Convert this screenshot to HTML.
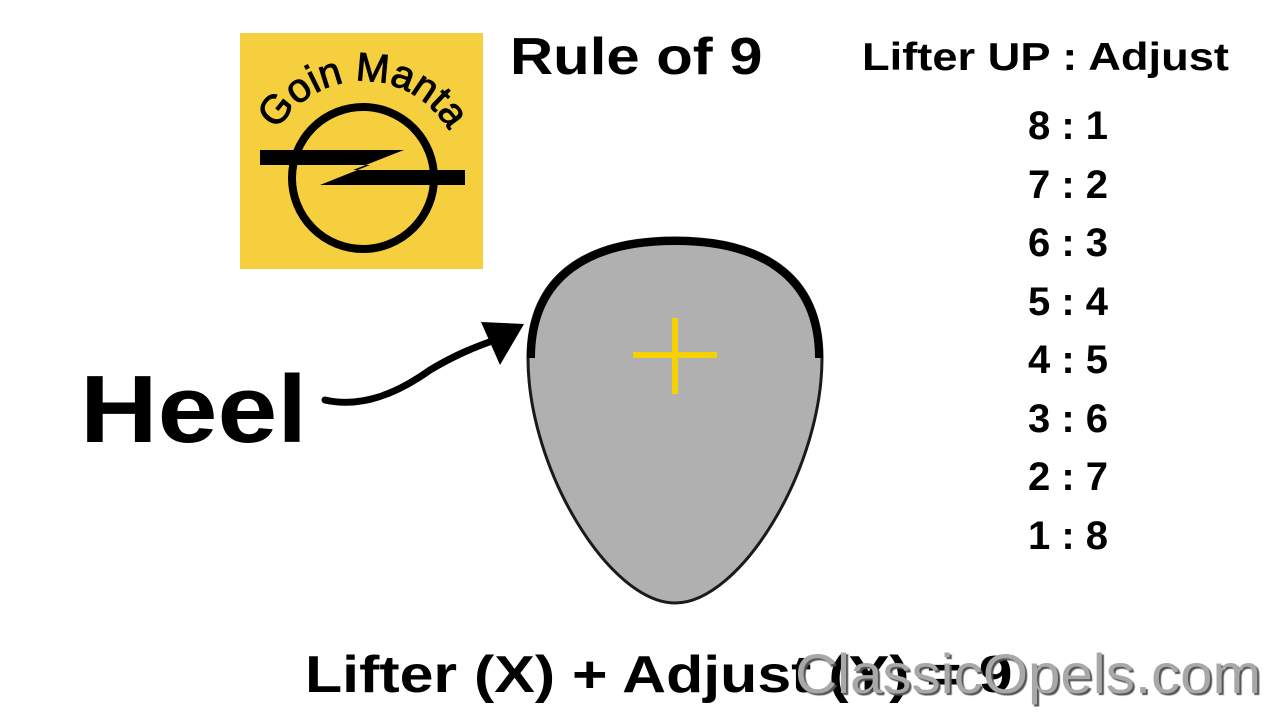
<!DOCTYPE html>
<html><head><meta charset="utf-8"><style>
body{margin:0;width:1280px;height:720px;background:#fff;overflow:hidden;position:relative;font-family:"Liberation Sans",sans-serif}
.t{position:absolute;font-weight:bold;color:#000;white-space:nowrap;line-height:1;transform-origin:0 0}
</style></head><body>
<svg width="1280" height="720" style="position:absolute;left:0;top:0">
<rect x="240" y="33" width="243" height="236" fill="#f6cf3e"/>
<defs><path id="arc" d="M264,180 A99,99 0 0,1 462,180"/></defs>
<text font-family="Liberation Sans,sans-serif" font-size="40" fill="#000" stroke="#000" stroke-width="1"><textPath href="#arc" startOffset="50%" text-anchor="middle">Goin Manta</textPath></text>
<circle cx="363" cy="178" r="71" fill="none" stroke="#000" stroke-width="8"/>
<polygon points="260,150 404,150 353,170 465,170 465,185 320,185 370,165 260,165" fill="#000"/>
<path d="M528,358 C528,272 590,238 675,238 C760,238 822,272 822,358 C822,470 740,603 675,603 C610,603 528,470 528,358 Z" fill="#b0b0b0" stroke="#1a1a1a" stroke-width="3"/>
<path d="M531,358 C531,274 592,241 675,241 C758,241 819,274 819,358" fill="none" stroke="#000" stroke-width="8"/>
<rect x="633" y="352" width="84" height="6" fill="#f6d100"/>
<rect x="672" y="318" width="6" height="76" fill="#f6d100"/>
<path d="M325,400 C360,408 395,395 430,370 C455,355 475,347 495,340" fill="none" stroke="#000" stroke-width="7" stroke-linecap="round"/>
<polygon points="524,324 481,322 500,365" fill="#000"/>
</svg>
<div class="t" style="left:80px;top:362px;font-size:96px;transform:scaleX(1.12)">Heel</div>
<div class="t" style="left:510px;top:31px;font-size:52px;transform:scaleX(1.15)">Rule of 9</div>
<div class="t" style="left:862px;top:38px;font-size:39px;transform:scaleX(1.16)">Lifter UP : Adjust</div>
<div class="t" style="left:968px;top:97px;width:200px;text-align:center;font-size:40px;line-height:58.5px">8 : 1<br>7 : 2<br>6 : 3<br>5 : 4<br>4 : 5<br>3 : 6<br>2 : 7<br>1 : 8</div>
<div class="t" style="left:305px;top:649px;font-size:52px;transform:scaleX(1.17)">Lifter (X) + Adjust (Y) = 9</div>
<div class="t" style="left:795px;top:646px;font-size:56px;font-weight:normal;color:#a8a8a8;text-shadow:2px 2px 1px #555;transform:scaleX(1.04)">ClassicOpels.com</div>
</body></html>
